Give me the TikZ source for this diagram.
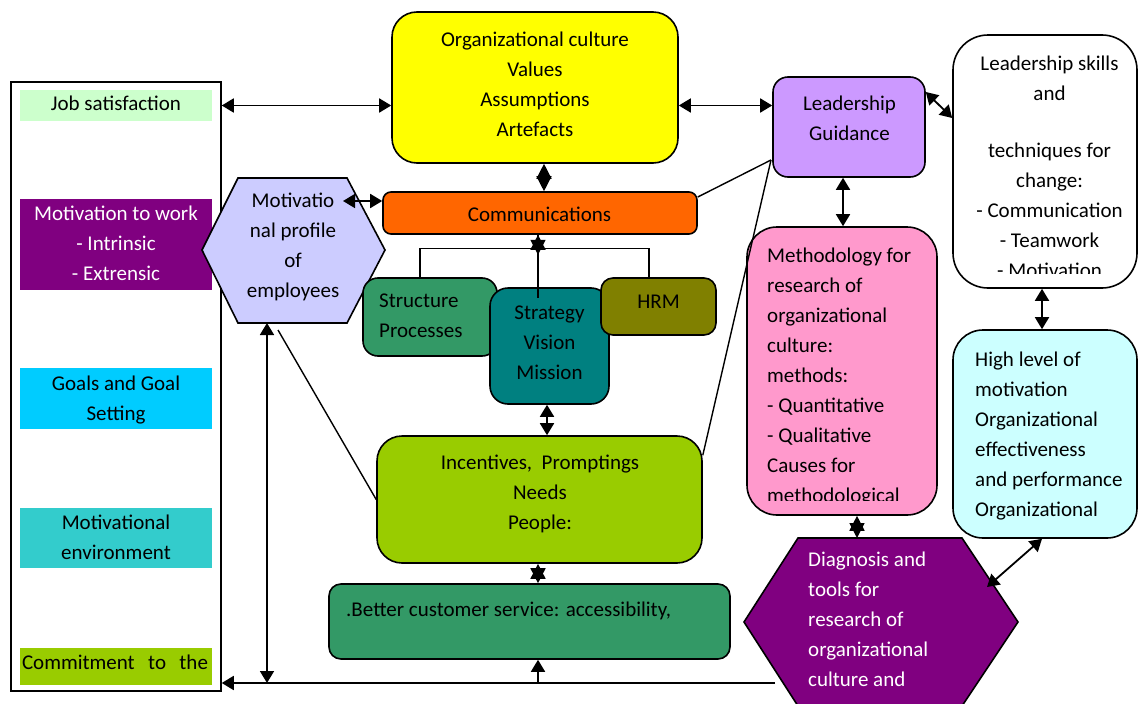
\documentclass[tikz,border=0pt]{standalone}
\usepackage{fontspec}
\setmainfont{Carlito}
\usetikzlibrary{arrows.meta}
\definecolor{cjob}{HTML}{CCFFCC}
\definecolor{cpurple}{HTML}{800080}
\definecolor{cgoals}{HTML}{00CCFF}
\definecolor{cmenv}{HTML}{33CCCC}
\definecolor{cgreen}{HTML}{99CC00}
\definecolor{chex}{HTML}{CCCCFF}
\definecolor{cyellow}{HTML}{FFFF00}
\definecolor{corange}{HTML}{FF6600}
\definecolor{clead}{HTML}{CC99FF}
\definecolor{cpink}{HTML}{FF99CC}
\definecolor{chigh}{HTML}{CCFFFF}
\definecolor{csea}{HTML}{339966}
\definecolor{cteal}{HTML}{008080}
\definecolor{colive}{HTML}{808000}
\begin{document}
\begin{tikzpicture}[x=1pt,y=-1pt,
  box/.style={draw=black,line width=1.6pt,inner sep=0pt,rounded corners=#1},
  box/.default=10pt,
  lbl/.style={draw=none,inner sep=0pt,minimum width=192pt},
  txt/.style={font=\fontsize{21}{30}\selectfont,inner sep=0pt,align=center,anchor=north,
    execute at begin node=\strut,execute at end node=\strut},
  txtl/.style={txt,align=left,anchor=north west},
  tip/.tip={Triangle[length=12pt,width=14pt]},
  dtip/.tip={Triangle[length=15pt,width=15pt]},
  dbl/.style={tip-tip,line width=1.8pt},
  arr/.style={-tip,line width=1.8pt},
  dia/.style={dtip-dtip,line width=1.5pt},
  ln/.style={line width=1.4pt}]
\clip (0,0) rectangle (1138,704);
\fill[white] (0,0) rectangle (1138,704);
% left column
\node[draw=black,line width=1.5pt,inner sep=0pt,minimum width=210pt,minimum height=609pt] (frame) at (116,386.5) {};
\node[lbl,fill=cjob,minimum height=31pt] (job) at (116,105.5) {};
\node[lbl,fill=cpurple,minimum height=91pt] (motiv) at (116,244.5) {};
\node[lbl,fill=cgoals,minimum height=61pt] (goals) at (116,398.5) {};
\node[lbl,fill=cmenv,minimum height=60pt] (menv) at (116,538) {};
\node[lbl,fill=cgreen,minimum height=37pt] (commit) at (116,666.5) {};
% boxes
\node[box=25pt,fill=cyellow,minimum width=286pt,minimum height=151pt] (yellow) at (535,87.5) {};
\node[box=8pt,fill=corange,minimum width=314pt,minimum height=42pt] (comm) at (540,213) {};
\node[box=15pt,fill=clead,minimum width=152pt,minimum height=100pt] (lead) at (849,127) {};
\node[box=35pt,fill=white,minimum width=184pt,minimum height=253pt] (skills) at (1045,161.5) {};
\node[box=30pt,fill=cpink,minimum width=190pt,minimum height=288pt] (pink) at (842,371) {};
\node[box=30pt,fill=chigh,minimum width=184pt,minimum height=208pt] (high) at (1045,434) {};
\draw[fill=chex,line width=1.6pt] (202,250) -- (238,178) -- (347,178) -- (385,250) -- (347,323) -- (238,323) -- cycle;
\node[box=15pt,fill=csea,minimum width=134pt,minimum height=78pt] (struct) at (430,317) {};
\node[box=18pt,fill=cteal,minimum width=119pt,minimum height=116pt] (strat) at (549.5,346) {};
\node[box=12pt,fill=colive,minimum width=115pt,minimum height=57pt] (hrm) at (658.5,306.5) {};
\node[box=25pt,fill=cgreen,minimum width=325pt,minimum height=127pt] (incent) at (539.5,499.5) {};
\node[box=12pt,fill=csea,minimum width=401pt,minimum height=75pt] (cust) at (529.5,621.5) {};
\draw[fill=cpurple,line width=1.6pt] (744,622) -- (798,538) -- (962,538) -- (1018,622) -- (962,706) -- (798,706) -- cycle;
% coordinates
\coordinate (hexTxt) at (343,201);
\coordinate (hexBot) at (267,323);
\coordinate (hexLine) at (278,330);
\coordinate (leadPt) at (771,160);
\coordinate (bottomR) at (775,683);
\coordinate (diagA) at (987,587);
\coordinate (diagTop) at (857,538);
\coordinate (stratTop) at (538,298);
\coordinate (commBot) at ([xshift=-2pt]comm.south);
\coordinate (cu) at ([xshift=8.5pt]cust.south);
\coordinate (cn) at ([xshift=8.5pt]cust.north);
% connectors
\draw[dbl] (job.east -| frame.east) -- (job.east -| yellow.west);
\draw[dbl] (yellow.east |- job.east) -- (lead.west |- job.east);
\draw[dia] ([xshift=9pt]yellow.south) -- ([xshift=4pt]comm.north);
\draw[dbl] (hexTxt) -- (hexTxt -| comm.west);
\draw[dbl] ([yshift=35pt]lead.east) -- ([yshift=43.5pt]skills.west);
\draw[dbl] ([xshift=-6pt]lead.south) -- ([xshift=1pt]pink.north);
\draw[dbl] ([xshift=-3pt]skills.south) -- ([xshift=-3pt]high.north);
\draw[dbl] ([xshift=-3pt]high.south) -- (diagA);
\draw[dia] ([xshift=15pt]pink.south) -- (diagTop);
\draw[ln] (commBot) -- (stratTop);
\draw[dia] (commBot) -- ++(0,20);
\draw[ln] ([xshift=-10pt]struct.north) -- ++(0,-29) -| ([xshift=-9.5pt]hrm.north);
\draw[dbl] ([xshift=-2.5pt]strat.south) -- ([xshift=7.5pt]incent.north);
\draw[dia] ([xshift=-1.5pt]incent.south) -- (cn);
\draw[arr] (bottomR) -- (bottomR -| frame.east);
\draw[arr] (cu |- bottomR) -- (cu);
\draw[dbl] (hexBot) -- (hexBot |- bottomR);
\draw[ln] (hexLine) -- (incent.west);
\draw[ln] ([yshift=16pt]comm.east) -- (leadPt);
\draw[ln] (leadPt) -- ([yshift=-20pt]incent.north east);
% texts
\node[txt] (tjob) at (116,89) {Job satisfaction};
\node[txt,text=white] (tmotiv) at (116,206) {Motivation to work\\- Intrinsic\\- Extrensic};
\node[txt] (tgoals) at (116,376) {Goals and Goal\\Setting};
\node[txt] (tmenv) at (116,515) {Motivational\\environment};
\node[txt] (tcommit) at (115,648) {\makebox[186pt][s]{Commitment to the}};
\node[txt] (thex) at (293,193) {Motivatio\\nal profile\\of\\employees};
\node[txt] (tyellow) at (535,32) {Organizational culture\\Values\\Assumptions\\Artefacts};
\node[txt] (tcomm) at (539.5,200) {Communications};
\node[txt] (tlead) at (849.5,96) {Leadership\\Guidance};
\node[txt] (tskills1) at (1049.5,56) {Leadership skills\\and};
\begin{scope}
\clip (953,35) rectangle (1138,273);
\node[txt] (tskills2) at (1049.5,143) {techniques for\\change:\\- Communication\\- Teamwork\\- Motivation};
\end{scope}
\begin{scope}
\clip (747,227) rectangle (937,500);
\node[txtl] (tpink) at (767,248) {Methodology for\\research of\\organizational\\culture:\\methods:\\- Quantitative\\- Qualitative\\Causes for\\methodological};
\end{scope}
\node[txtl] (thigh) at (975,352) {High level of\\motivation\\Organizational\\effectiveness\\and performance\\Organizational};
\node[txtl] (tstruct) at (379,294) {Structure\\Processes};
\node[txt] (tstrat) at (549.5,306) {Strategy\\Vision\\Mission};
\node[txt] (thrm) at (658.5,287) {HRM};
\node[txt] (tincent) at (540,455) {Incentives,\ \ Promptings\\Needs\\People:};
\node[txtl] (tcust) at (346,595) {.Better customer service: accessibility,};
\node[txtl,text=white] (tdiag) at (808,552) {Diagnosis and\\tools for\\research of\\organizational\\culture and};
\end{tikzpicture}
\end{document}
